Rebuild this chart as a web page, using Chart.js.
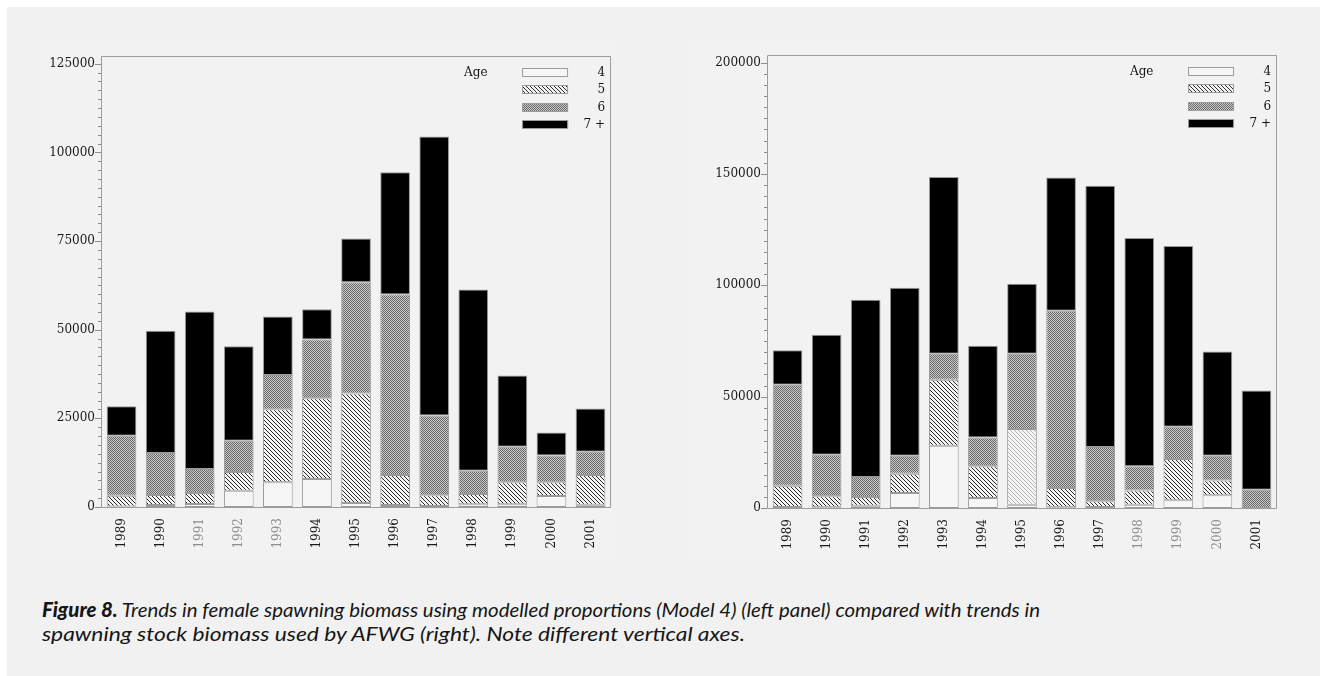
<!DOCTYPE html>
<html><head><meta charset="utf-8">
<script src="https://cdn.jsdelivr.net/npm/chart.js@4/dist/chart.umd.min.js"></script>
<style>
html,body{margin:0;padding:0;background:#fff;width:1320px;height:676px;overflow:hidden;}
#page{position:absolute;left:7px;top:7px;width:1313px;height:669px;background:#f1f1f1;}
.panel{position:absolute;background:#f2f2f2;}
canvas{position:absolute;}
.cap{position:absolute;left:42px;font-family:Lato,'Open Sans',sans-serif;font-style:italic;font-size:20px;line-height:24px;color:#161616;white-space:nowrap;transform-origin:0 0;}
.cap b{font-weight:900;}
</style></head><body>
<div id="page"></div>
<div class="panel" style="left:40px;top:40px;width:576px;height:518px"></div>
<div class="panel" style="left:690px;top:40px;width:592px;height:518px"></div>
<canvas id="left" width="576" height="518" style="left:40px;top:40px"></canvas>
<canvas id="right" width="582" height="518" style="left:700px;top:40px"></canvas>
<div class="cap" id="cap1" style="top:597px"><b>Figure 8.</b> Trends in female spawning biomass using modelled proportions (Model 4) (left panel) compared with trends in</div>
<div class="cap" id="cap2" style="top:621px">spawning stock biomass used by AFWG (right). Note different vertical axes.</div>
<script>
// ---------- data ----------
const years = ['1989','1990','1991','1992','1993','1994','1995','1996','1997','1998','1999','2000','2001'];
const ageLabels = ['4','5','6','7 +'];

// left panel: female spawning biomass, modelled proportions (Model 4)
const leftAge4 = [150, 560, 850, 4600, 7000, 7900, 1130, 560, 280, 750, 750, 3100, 660];
const leftAge5 = [3050, 2820, 3100, 5270, 20600, 22800, 30870, 8440, 3020, 2920, 6210, 3860, 8360];
const leftAge6 = [16900, 11820, 6750, 8830, 9600, 16500, 31400, 50900, 22500, 6530, 10040, 7540, 6580];
const leftAge7 = [8300, 34500, 44400, 26600, 16500, 8600, 12300, 34500, 78700, 51100, 20100, 6500, 12200];
const leftTicks = [0, 25000, 50000, 75000, 100000, 125000];

// right panel: spawning stock biomass used by AFWG
const rightAge4 = [450, 300, 1050, 6730, 28000, 4500, 1500, 300, 450, 1500, 3440, 5680, 0];
const rightAge5 = [9550, 4940, 3890, 8670, 29600, 14200, 33950, 8700, 2550, 6400, 18560, 6720, 0];
const rightAge6 = [45350, 18660, 8960, 8100, 11700, 13000, 33850, 79600, 24400, 10800, 14500, 11100, 8200];
const rightAge7 = [15450, 53900, 79600, 75400, 79400, 41200, 31400, 59800, 117300, 102600, 81200, 46800, 44600];
const rightTicks = [0, 50000, 100000, 150000, 200000];

// ---------- styles ----------
const FONT = '"DejaVu Serif", "Liberation Serif", serif';
const leftFaint = ['1991','1992','1993'];
const rightFaint = ['1998','1999','2000'];
const rightLightHatchYear = '1995';

function mkPattern(size, draw){
  const c = document.createElement('canvas'); c.width = size; c.height = size;
  const x = c.getContext('2d'); draw(x);
  return x.createPattern(c, 'repeat');
}
function hatch(bg, fg){
  return mkPattern(4, x => {
    x.fillStyle = bg; x.fillRect(0,0,4,4);
    x.fillStyle = fg;
    for (let i=0;i<4;i++){ x.fillRect(i, i, 1, 1); }
  });
}
const fillAge4 = '#f6f6f6';
const fillAge5 = hatch('#f3f3f3', '#2a2a2a');
const fillAge5Light = hatch('#f5f5f5', '#b4b4b4');
const fillAge6 = mkPattern(2, x => {
  x.fillStyle = '#c8c8c8'; x.fillRect(0,0,2,2);
  x.fillStyle = '#6a6a6a'; x.fillRect(0,0,1,1); x.fillRect(1,1,1,1);
});
const fillAge7 = '#000000';
const legendFills = [fillAge4, fillAge5, fillAge6, fillAge7];

const panelPlugin = {
  id: 'panelDecor',
  afterDatasetsDraw(chart){
    const {ctx, chartArea: a} = chart;
    const ys = chart.scales.y;
    const o = chart.options.plugins.panelDecor;
    ctx.save();
    ctx.strokeStyle = '#9c9c9c'; ctx.lineWidth = 1;
    ctx.beginPath();
    ctx.moveTo(a.left - 0.5, a.top - 0.5); ctx.lineTo(a.right + 0.5, a.top - 0.5);
    ctx.lineTo(a.right + 0.5, a.bottom + 0.5); ctx.lineTo(a.left - 0.5, a.bottom + 0.5);
    ctx.closePath(); ctx.stroke();
    // ticks (major + minor)
    ctx.strokeStyle = '#8c8c8c';
    ctx.beginPath();
    for (let v = 0; v <= ys.max + 1; v += o.minor){
      const y = Math.round(ys.getPixelForValue(v)) + 0.5;
      const len = (v % o.major === 0) ? 6 : 3;
      ctx.moveTo(a.left - 1 - len, y); ctx.lineTo(a.left - 1, y);
    }
    ctx.stroke();
    // legend
    const r = a.right, t = a.top;
    ctx.font = '12px ' + FONT; ctx.fillStyle = '#141414'; ctx.textBaseline = 'middle';
    ctx.textAlign = 'left'; ctx.fillText('Age', r - 146, t + 16);
    for (let i = 0; i < 4; i++){
      const y0 = Math.round(t + 11 + 17.3 * i);
      ctx.fillStyle = legendFills[i]; ctx.fillRect(r - 88, y0, 46, 9);
      ctx.strokeStyle = '#9c9c9c'; ctx.strokeRect(r - 87.5, y0 + 0.5, 45, 8);
      ctx.fillStyle = '#141414'; ctx.textAlign = 'right';
      ctx.fillText(ageLabels[i], r - 5, y0 + 5);
    }
    ctx.restore();
  }
};

function makeChart(id, d4, d5, d6, d7, ticks, maxV, minor, yWidth, xHeight, pad, faint, lightHatch){
  const major = ticks[1] - ticks[0];
  const ds = (data, bg) => ({ data, backgroundColor: bg, borderColor: '#9a9a9a', borderWidth: 1, borderSkipped: false, barPercentage: 0.76, categoryPercentage: 1 });
  return new Chart(document.getElementById(id), {
    type: 'bar',
    data: {
      labels: years,
      datasets: [
        ds(d4, fillAge4),
        ds(d5, ctx => (lightHatch && years[ctx.dataIndex] === lightHatch) ? fillAge5Light : fillAge5),
        ds(d6, fillAge6),
        ds(d7, fillAge7)
      ]
    },
    options: {
      responsive: false, animation: false, devicePixelRatio: 1,
      layout: { padding: pad },
      plugins: { legend: { display: false }, tooltip: { enabled: false }, panelDecor: { major, minor } },
      scales: {
        x: {
          stacked: true,
          grid: { display: false, drawTicks: false },
          border: { display: false },
          ticks: { minRotation: 90, maxRotation: 90, padding: 11, autoSkip: false,
                   font: { family: FONT, size: 12 },
                   color: c => faint.includes(years[c.index]) ? '#8e8e8e' : '#1a1a1a' },
          afterFit: s => { s.height = xHeight; }
        },
        y: {
          stacked: true, min: 0, max: maxV,
          grid: { display: false, drawTicks: false },
          border: { display: false },
          afterBuildTicks: s => { s.ticks = ticks.map(v => ({ value: v })); },
          ticks: { padding: 7, font: { family: FONT, size: 12 }, color: '#1a1a1a', callback: v => String(v) },
          afterFit: s => { s.width = yWidth; }
        }
      }
    },
    plugins: [panelPlugin]
  });
}

makeChart('left', leftAge4, leftAge5, leftAge6, leftAge7, leftTicks, 126900, 2500, 62, 51,
          { top: 17, right: 2, left: 0, bottom: 0 }, leftFaint, null);
makeChart('right', rightAge4, rightAge5, rightAge6, rightAge7, rightTicks, 203000, 5000, 68, 50,
          { top: 16, right: 3, left: 0, bottom: 0 }, rightFaint, rightLightHatchYear);

// caption fitted to the reference line widths
function fit(id, w){
  const el = document.getElementById(id);
  const nat = el.getBoundingClientRect().width;
  el.style.transform = 'scaleX(' + (w / nat) + ')';
}
fit('cap1', 998);
fit('cap2', 703);
</script>
</body></html>
